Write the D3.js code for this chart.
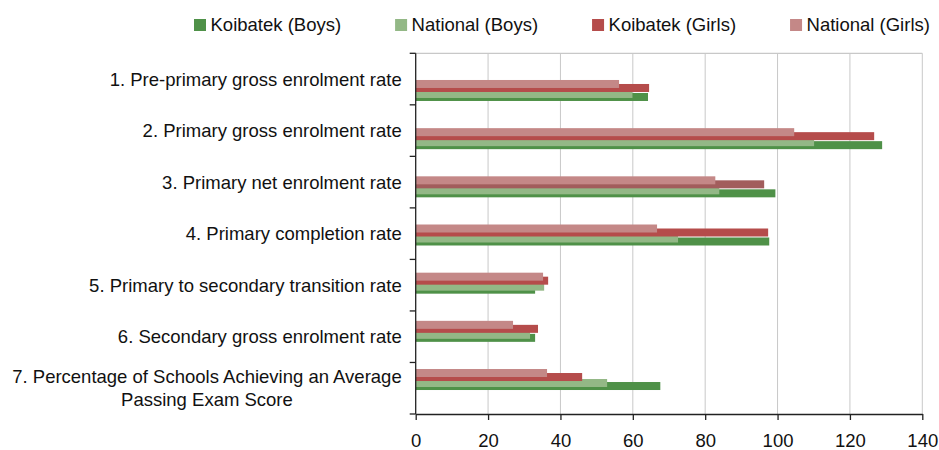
<!DOCTYPE html>
<html><head><meta charset="utf-8">
<script src="https://cdn.jsdelivr.net/npm/d3@7"></script>
<style>body{margin:0;background:#fff}svg{display:block;font-family:"Liberation Sans",Arial,sans-serif}</style>
</head><body><svg id="c" width="939" height="450"></svg>
<script>
const categories = [
  "1. Pre-primary gross enrolment rate",
  "2. Primary gross enrolment rate",
  "3. Primary net enrolment rate",
  "4. Primary completion rate",
  "5. Primary to secondary transition rate",
  "6. Secondary gross enrolment rate",
  "7. Percentage of Schools Achieving an Average\nPassing Exam Score"
];
const seriesNames = ["Koibatek (Boys)", "National (Boys)", "Koibatek (Girls)", "National (Girls)"];
const koibatekBoys  = [64.2, 128.9, 99.4, 97.7, 33.0, 33.0, 67.6];
const nationalBoys  = [59.9, 110.1, 83.9, 72.5, 35.5, 31.6, 52.9];
const koibatekGirls = [64.5, 126.7, 96.3, 97.4, 36.6, 33.8, 46.0];
const nationalGirls = [56.2, 104.6, 82.8, 66.7, 35.2, 26.9, 36.3];
const xTicks = [0, 20, 40, 60, 80, 100, 120, 140];

const seriesValues = [koibatekBoys, nationalBoys, koibatekGirls, nationalGirls];
const colors = ["#4f9148", "#93b886", "#b54c4b", "#c48887"];
const pointColorOverride = {"2-2": "#a25d5c"};

const svg = d3.select("#c");
const L = 415.7, R = 922.3, T = 53.3, B = 414;
const fs = 18.5;

const x = d3.scaleLinear().domain([0, 140]).range([L, R]);
const y = d3.scaleBand().domain(d3.range(categories.length)).range([T, B]).padding(0);
// bar groups are laid out on their own band (as in the reference)
const yBars = d3.scaleBand().domain(d3.range(categories.length)).range([66.4, 403.6]).padding(0);
const barOffset = d3.scaleOrdinal().domain(d3.range(4)).range([2.5, -0.5, -6.5, -10.5]);
const barH = 8;

// gridlines
svg.append("g").selectAll("line").data(xTicks.slice(1)).join("line")
  .attr("x1", d => x(d)).attr("x2", d => x(d)).attr("y1", T).attr("y2", B)
  .attr("stroke", "#c8c8c8").attr("stroke-width", 1);
svg.append("line").attr("x1", L).attr("x2", R).attr("y1", T).attr("y2", T)
  .attr("stroke", "#c8c8c8").attr("stroke-width", 1.3);

// bars
seriesValues.forEach((vals, s) => {
  svg.append("g").selectAll("rect").data(vals).join("rect")
    .attr("x", x(0))
    .attr("y", (d, i) => yBars(i) + yBars.bandwidth() / 2 + barOffset(s))
    .attr("width", d => x(d) - x(0))
    .attr("height", barH)
    .attr("fill", (d, i) => pointColorOverride[s + "-" + i] || colors[s]);
});

// x axis
const xAxis = svg.append("g").attr("transform", `translate(0,${B})`)
  .call(d3.axisBottom(x).tickValues(xTicks).tickSize(6).tickPadding(14).tickSizeOuter(0));
xAxis.select(".domain").attr("stroke", "#222").attr("stroke-width", 1.3);
xAxis.selectAll(".tick line").attr("stroke", "#222").attr("stroke-width", 1.3);
xAxis.selectAll("text").attr("font-size", fs).attr("font-family", "Liberation Sans, Arial, sans-serif").attr("fill", "#111");

// y axis line and ticks at band boundaries
svg.append("line").attr("x1", L).attr("x2", L).attr("y1", T).attr("y2", B)
  .attr("stroke", "#222").attr("stroke-width", 1.3);
const bounds = d3.range(categories.length + 1).map(i => i < categories.length ? y(i) : B);
svg.append("g").selectAll("line").data(bounds).join("line")
  .attr("x1", L - 6).attr("x2", L).attr("y1", d => d).attr("y2", d => d)
  .attr("stroke", "#222").attr("stroke-width", 1.3);

// category labels
const lab = svg.append("g").attr("font-size", fs).attr("fill", "#111");
categories.forEach((c, i) => {
  const lines = c.split("\n");
  const cy = y(i) + y.bandwidth() / 2;
  const lh = 23;
  const t = lab.append("text").attr("text-anchor", "end");
  lines.forEach((ln, k) => {
    t.append("tspan").attr("x", 401.7).attr("y", cy + (k - (lines.length - 1) / 2) * lh).attr("dy", "0.35em").text(ln);
  });
  if (lines.length > 1) {
    const ts = t.selectAll("tspan").nodes();
    const maxW = d3.max(ts.map(n => n.getComputedTextLength()));
    const cx = 401.7 - maxW / 2;
    t.attr("text-anchor", "middle");
    ts.forEach(n => n.setAttribute("x", cx));
  }
});

// legend
const leg = svg.append("g").attr("font-size", fs).attr("fill", "#111");
let lx = 194;
seriesNames.forEach((n, s) => {
  leg.append("rect").attr("x", lx).attr("y", 19).attr("width", 12).attr("height", 12).attr("fill", colors[s]);
  const t = leg.append("text").attr("x", lx + 16.5).attr("y", 25).attr("dy", "0.35em").text(n);
  lx += 16.5 + t.node().getComputedTextLength() + 54;
});
</script></body></html>
